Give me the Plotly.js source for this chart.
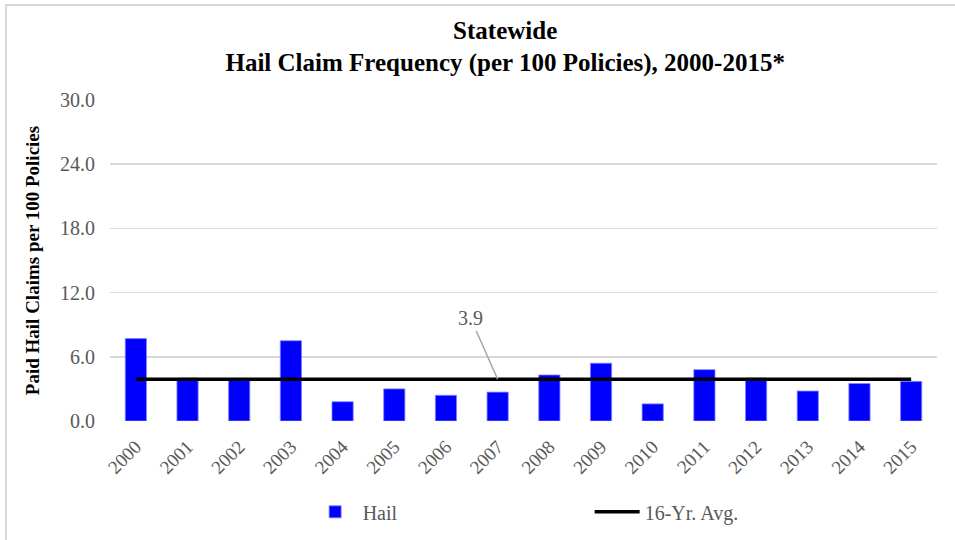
<!DOCTYPE html>
<html>
<head>
<meta charset="utf-8">
<script src="https://cdn.plot.ly/plotly-3.0.1.min.js"></script>
<style>
  html, body { margin: 0; padding: 0; background: #fff; }
  #wrap { position: relative; width: 955px; height: 540px; overflow: hidden; }
  #chart { position: absolute; left: 0; top: 0; width: 955px; height: 540px; }
  #frame { position: absolute; left: 5px; top: 4px; width: 960px; height: 560px;
           border-left: 2px solid #d9d9d9; border-top: 2px solid #d9d9d9; pointer-events: none; }
</style>
</head>
<body>
<div id="wrap">
  <div id="chart"></div>
  <div id="frame"></div>
</div>
<script>
const years = ['2000','2001','2002','2003','2004','2005','2006','2007','2008','2009','2010','2011','2012','2013','2014','2015'];
const hailFreq = [7.7, 4.0, 3.9, 7.5, 1.8, 3.0, 2.4, 2.7, 4.3, 5.4, 1.6, 4.8, 4.0, 2.8, 3.5, 3.7];
const avgFreq = [3.9, 3.9, 3.9, 3.9, 3.9, 3.9, 3.9, 3.9, 3.9, 3.9, 3.9, 3.9, 3.9, 3.9, 3.9, 3.9];
const yTicks = [0, 6, 12, 18, 24, 30];
const yTickLabels = ['0.0', '6.0', '12.0', '18.0', '24.0', '30.0'];
const avgLabel = '3.9';
const avgLabelYear = '2007';

const serif = 'Liberation Serif, Times New Roman, serif';
const labelIdx = years.indexOf(avgLabelYear);

const traces = [
  {
    type: 'bar', name: 'Hail', x: years, y: hailFreq,
    marker: { color: '#0000ff', line: { color: '#7f7fff', width: 0.8 } },
    hoverinfo: 'x+y'
  },
  {
    type: 'scatter', mode: 'lines', name: '16-Yr. Avg.', x: years, y: avgFreq,
    line: { color: '#000000', width: 3.5 },
    hoverinfo: 'x+y'
  }
];

const layout = {
  width: 955, height: 540,
  paper_bgcolor: '#ffffff', plot_bgcolor: '#ffffff',
  margin: { l: 110, r: 18, t: 100, b: 119, autoexpand: false },
  bargap: 0.59,
  font: { family: serif, color: '#595959' },
  title: {
    text: '<b>Statewide</b><br><b>Hail Claim Frequency (per 100 Policies), 2000-2015*</b>',
    font: { family: serif, size: 25, color: '#000000' },
    xref: 'container', x: 0.529, xanchor: 'center',
    yref: 'container', y: 0.928, yanchor: 'top'
  },
  xaxis: {
    type: 'category', range: [-0.5, years.length - 0.5], autorange: false,
    tickangle: -45, showgrid: false, zeroline: false,
    showline: false, ticks: '', ticklabelstandoff: 10,
    tickfont: { family: serif, size: 19, color: '#595959' }
  },
  yaxis: {
    range: [0, 30], autorange: false, tickvals: yTicks, ticktext: yTickLabels,
    showgrid: true, gridcolor: '#d9d9d9', gridwidth: 1.5, zeroline: false,
    showline: false, ticks: '', ticklabelstandoff: 14,
    tickfont: { family: serif, size: 20, color: '#595959' },
    title: {
      text: '<b>Paid Hail Claims per 100 Policies</b>',
      font: { family: serif, size: 19, color: '#000000' },
      standoff: 15
    }
  },
  legend: {
    orientation: 'h', x: 0.239, xanchor: 'left', y: -0.283, yanchor: 'middle',
    entrywidth: 222, entrywidthmode: 'pixels', itemwidth: 45,
    font: { family: serif, size: 20, color: '#595959' },
    bgcolor: 'rgba(0,0,0,0)'
  },
  annotations: [
    {
      x: labelIdx, y: avgFreq[labelIdx], xref: 'x', yref: 'y',
      text: avgLabel, showarrow: true, arrowhead: 0, arrowwidth: 1.5, arrowcolor: '#a6a6a6',
      ax: -27, ay: -61, standoff: 0,
      font: { family: serif, size: 20, color: '#595959' }
    }
  ],
  showlegend: true
};

Plotly.newPlot('chart', traces, layout, { displayModeBar: false, staticPlot: true });
</script>
</body>
</html>
